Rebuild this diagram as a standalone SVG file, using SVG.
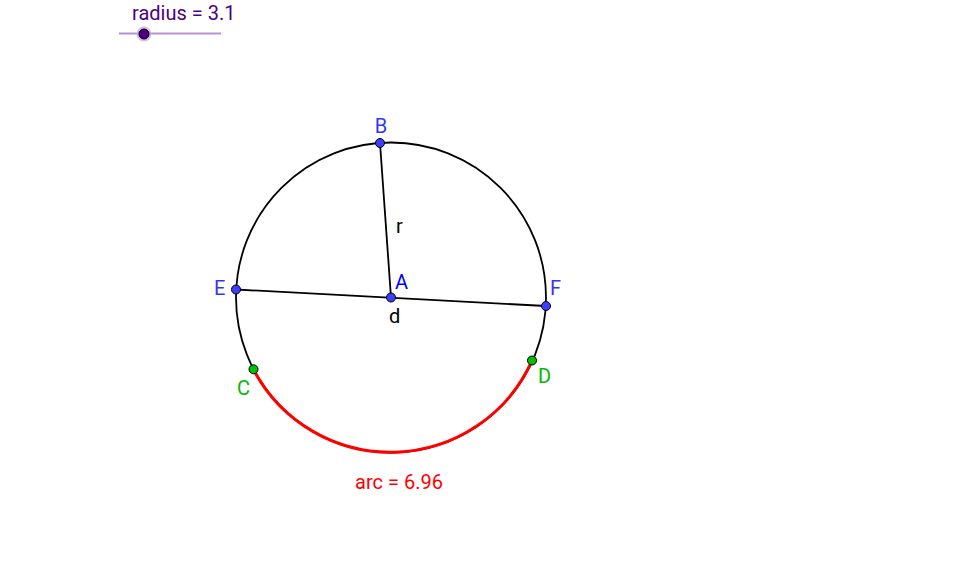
<svg xmlns="http://www.w3.org/2000/svg" width="957" height="582" viewBox="0 0 957 582">
<style>
text{font-family:Roboto,"Liberation Sans",sans-serif;font-size:20px}
.blue{fill:#3333ff}
.green{fill:#00bb00}
.pt{stroke:#000;stroke-width:1}
.bp{fill:#3d3dff}
.gp{fill:#00c000}
</style>
<rect width="957" height="582" fill="#fff"/>
<g id="slider">
<text x="132" y="20" fill="#4b0082">radius = 3.1</text>
<line x1="119" y1="33.5" x2="221" y2="33.5" stroke="#b593d3" stroke-width="2"/>
<circle cx="144" cy="34" r="7.5" fill="#c9b0e0" opacity="0.8"/>
<circle cx="144" cy="34" r="5" fill="#4b0082" stroke="#000" stroke-width="1"/>
</g>
<g id="connectors" fill="none">
<circle id="circle" cx="391" cy="297.5" r="155" stroke="#000" stroke-width="1.8"/>
<path id="arc" d="M 253.3 369.3 A 155 155 0 0 0 532 360.7" stroke="#ff0000" stroke-width="3"/>
<line id="r" x1="391" y1="297.5" x2="380" y2="143" stroke="#000" stroke-width="1.8"/>
<line id="d" x1="236" y1="289.5" x2="546" y2="306" stroke="#000" stroke-width="1.8"/>
</g>
<text x="396" y="233" fill="#000">r</text>
<text x="389" y="323" fill="#000">d</text>
<text x="399" y="489" fill="#ff0000" text-anchor="middle">arc = 6.96</text>
<g id="A"><circle class="pt bp" cx="391" cy="297.5" r="4.5" fill="#0000ff"/><text x="395" y="289" fill="#0000ff">A</text></g>
<g id="B"><circle class="pt bp" cx="380" cy="143" r="4.5"/><text x="381" y="133" class="blue" text-anchor="middle">B</text></g>
<g id="E"><circle class="pt bp" cx="236" cy="289.5" r="4.5"/><text x="214" y="295" class="blue">E</text></g>
<g id="F"><circle class="pt bp" cx="546" cy="306" r="4.5"/><text x="550" y="295" class="blue">F</text></g>
<g id="C"><circle class="pt gp" cx="253.5" cy="369.3" r="4.5"/><text x="237" y="395" class="green">C</text></g>
<g id="D"><circle class="pt gp" cx="532" cy="360.5" r="4.5"/><text x="538" y="383" class="green">D</text></g>
</svg>
